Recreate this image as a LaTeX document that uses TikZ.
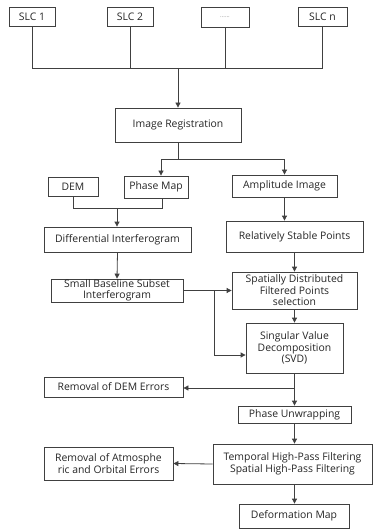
\documentclass[tikz,border=0pt]{standalone}
\usepackage{fontspec}
\setmainfont{Open Sans}
\usetikzlibrary{arrows.meta}
\begin{document}
\begin{tikzpicture}[x=1pt,y=-1pt,
 box/.style={draw=black!75, line width=0.8pt, inner sep=1pt, align=center,
   font=\fontsize{10.4}{11.5}\selectfont, text=black!85},
 conn/.style={draw=black!75, line width=0.8pt},
 arr/.style={conn, -{Triangle[width=5pt,length=5pt]}}]
\useasboundingbox[fill=white] (0,0) rectangle (375,529);
% top sources
\node[box, minimum width=46pt, minimum height=19pt] (slc1) at (32,16.5) {SLC 1};
\node[box, minimum width=46pt, minimum height=19pt] (slc2) at (130,16.5) {SLC 2};
\node[box, minimum width=48pt, minimum height=20pt, text=black!45, font=\fontsize{6}{7}\selectfont] (dots) at (225,17) {......};
\node[box, minimum width=49pt, minimum height=19pt] (slcn) at (322.5,16.5) {SLC n};
\node[box, minimum width=126pt, minimum height=34pt] (reg) at (178,125) {Image Registration};
\node[box, minimum width=50pt, minimum height=19pt] (dem) at (73,186.5) {DEM};
\node[box, minimum width=64pt, minimum height=22pt] (phase) at (156,187) {Phase Map};
\node[box, minimum width=105pt, minimum height=22pt] (amp) at (284.5,186) {Amplitude Image};
\node[box, minimum width=147pt, minimum height=25pt] (diff) at (117.5,239.5) {Differential Interferogram};
\node[box, minimum width=137pt, minimum height=31pt] (rsp) at (294.5,236.5) {Relatively Stable Points};
\node[box, minimum width=132pt, minimum height=23pt, inner sep=0pt, font=\fontsize{10.4}{10.8}\selectfont] (sbas) at (117,290.5) {Small Baseline Subset\\Interferogram};
\node[box, minimum width=125pt, minimum height=37pt, inner sep=0pt] (sdf) at (294.5,290.5) {Spatially Distributed\\Filtered Points\\selection};
\node[box, minimum width=97pt, minimum height=50pt] (svd) at (294.5,348) {Singular Value\\Decomposition\\(SVD)};
\node[box, minimum width=139pt, minimum height=20pt] (rdem) at (113.5,387) {Removal of DEM Errors};
\node[box, minimum width=113pt, minimum height=17pt, inner sep=0pt] (pu) at (294.5,414.5) {Phase Unwrapping};
\node[box, minimum width=159pt, minimum height=40pt] (thp) at (292.5,464) {Temporal High-Pass Filtering\\Spatial High-Pass Filtering};
\node[box, minimum width=129pt, minimum height=33pt] (ratm) at (108.5,463.5) {Removal of Atmosphe\\ric and Orbital Errors};
\node[box, minimum width=110pt, minimum height=24pt] (dm) at (294,516) {Deformation Map};
% connectors
\coordinate (hub) at (178,68);
\draw[conn] (slc1.south) -- (slc1.south |- hub) -- (slcn.south |- hub) -- (slcn.south);
\draw[conn] (slc2.south) -- (slc2.south |- hub);
\draw[conn] (dots.south) -- (dots.south |- hub);
\draw[arr] (hub) -- (reg.north);
\coordinate (split1) at (178,159);
\draw[conn] (reg.south) -- (split1);
\draw[arr] (split1) -| ([xshift=5pt]phase.north);
\draw[arr] (split1) -| (amp.north);
\coordinate (merge1) at (117,208);
\draw[conn] (dem.south) |- (merge1);
\draw[conn] ([xshift=6pt]phase.south) |- (merge1);
\draw[arr] (merge1) -- (merge1 |- diff.north);
\draw[arr] (amp.south) -- (amp.south |- rsp.north);
\draw[arr] (diff.south) -- (sbas.north);
\draw[arr] (rsp.south) -- (sdf.north);
\coordinate (split2) at (214,290.5);
\draw[arr] (sbas.east) -- (sdf.west);
\draw[arr] (split2) |- ([yshift=-7pt]svd.west);
\draw[arr] (sdf.south) -- (svd.north);
\coordinate (split3) at (294.5,388);
\draw[conn] (svd.south) -- (split3);
\draw[arr] (split3) -- (pu.north);
\draw[arr] (split3) -- (split3 -| rdem.east);
\draw[arr] (pu.south) -- (pu.south |- thp.north);
\draw[arr] (thp.west) -- (ratm.east);
\draw[arr] (pu.south |- thp.south) -- (pu.south |- dm.north);
\end{tikzpicture}
\end{document}
